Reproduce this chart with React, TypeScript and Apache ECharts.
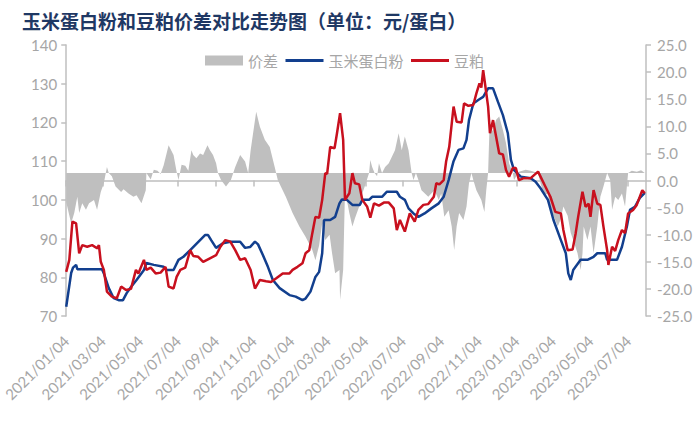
import React, { useEffect, useRef } from "react";
import * as echarts from "echarts";

const titleText = "玉米蛋白粉和豆粕价差对比走势图（单位：元/蛋白）";
const seriesNames = ["价差", "玉米蛋白粉", "豆粕"];

const xMinDate = "2021-01-04";
const xMaxDate = "2023-08-02";
const xTickDates = [
  "2021-01-04", "2021-03-04", "2021-05-04", "2021-07-04", "2021-09-04", "2021-11-04",
  "2022-01-04", "2022-03-04", "2022-05-04", "2022-07-04", "2022-09-04", "2022-11-04",
  "2023-01-04", "2023-03-04", "2023-05-04", "2023-07-04",
];

// 玉米蛋白粉 (left axis)
const cornProtein: [string, number][] = [
  ["2021-01-04", 72.4], ["2021-01-12", 81.1], ["2021-01-15", 82.5], ["2021-01-20", 83.2], ["2021-01-22", 82.1],
  ["2021-03-03", 82.1], ["2021-03-06", 81], ["2021-03-14", 77.2], ["2021-03-22", 74.6], ["2021-03-30", 74.1],
  ["2021-04-06", 74.1], ["2021-04-12", 75.9], ["2021-04-19", 77.5], ["2021-04-28", 79.3], ["2021-05-10", 81.9],
  ["2021-05-14", 83.7], ["2021-05-26", 83.2], ["2021-06-11", 82.7], ["2021-06-16", 81.9], ["2021-06-27", 81.9],
  ["2021-07-05", 84.5], ["2021-07-13", 85.3], ["2021-07-24", 87], ["2021-08-01", 88.3], ["2021-08-09", 89.6],
  ["2021-08-17", 90.9], ["2021-08-22", 90.9], ["2021-08-27", 89.6], ["2021-09-04", 87.6], ["2021-09-15", 88.8],
  ["2021-09-27", 89.2], ["2021-10-13", 89.2], ["2021-10-21", 87.6], ["2021-10-29", 87.8], ["2021-11-06", 89.2],
  ["2021-11-11", 88.5], ["2021-11-19", 85.7], ["2021-11-27", 82.7], ["2021-12-05", 79.3], ["2021-12-16", 77.2],
  ["2022-01-01", 75.4], ["2022-01-11", 75], ["2022-01-22", 74.1], ["2022-01-27", 74.5], ["2022-02-04", 76.3],
  ["2022-02-12", 80.1], ["2022-02-18", 81.4], ["2022-02-23", 86.2], ["2022-02-26", 94.8], ["2022-03-08", 94.8],
  ["2022-03-16", 95.6], ["2022-03-23", 99.1], ["2022-03-27", 100.1], ["2022-04-04", 100], ["2022-04-13", 98.7],
  ["2022-04-25", 98.7], ["2022-04-29", 100], ["2022-05-10", 100], ["2022-05-15", 100.8], ["2022-05-31", 100.8],
  ["2022-06-08", 102.1], ["2022-06-24", 102.1], ["2022-06-29", 100.8], ["2022-07-07", 100], ["2022-07-13", 97.8],
  ["2022-07-21", 96.5], ["2022-07-29", 95.6], ["2022-08-08", 96.5], ["2022-08-19", 97.8], ["2022-08-31", 99.1],
  ["2022-09-08", 100.8], ["2022-09-16", 105.1], ["2022-09-24", 110], ["2022-10-02", 112.9], ["2022-10-10", 113.3],
  ["2022-10-15", 115.5], ["2022-10-19", 120.6], ["2022-10-26", 124.9], ["2022-11-03", 125.8], ["2022-11-11", 126.6],
  ["2022-11-19", 128.8], ["2022-11-27", 128.8], ["2022-12-05", 125.3], ["2022-12-13", 121.9], ["2022-12-21", 117.2],
  ["2022-12-26", 110.3], ["2022-12-31", 107.7], ["2023-01-11", 106], ["2023-01-27", 105.6], ["2023-02-04", 104.7],
  ["2023-02-12", 103], ["2023-02-24", 100], ["2023-03-05", 94.8], ["2023-03-17", 89.6], ["2023-03-25", 86.2],
  ["2023-03-29", 81], ["2023-04-02", 79.3], ["2023-04-06", 81.9], ["2023-04-18", 84.5], ["2023-04-29", 84.5],
  ["2023-05-09", 85.3], ["2023-05-15", 86.2], ["2023-05-28", 86.2], ["2023-05-31", 84.5], ["2023-06-16", 84.5],
  ["2023-06-24", 87.9], ["2023-07-02", 93.1], ["2023-07-07", 97.4], ["2023-07-15", 98.2], ["2023-07-23", 100.5],
  ["2023-07-31", 101.8],
];

// 豆粕 (left axis)
const soyMeal: [string, number][] = [
  ["2021-01-04", 81.4], ["2021-01-09", 84.5], ["2021-01-14", 94.4], ["2021-01-20", 93.9], ["2021-01-25", 86.2],
  ["2021-01-30", 88.3], ["2021-02-07", 87.9], ["2021-02-15", 88.3], ["2021-02-23", 87.5], ["2021-02-26", 88.3],
  ["2021-03-01", 84], ["2021-03-06", 81.9], ["2021-03-11", 76.3], ["2021-03-19", 75], ["2021-03-27", 74.6],
  ["2021-04-03", 77.6], ["2021-04-11", 76.7], ["2021-04-19", 77], ["2021-04-27", 81.9], ["2021-05-01", 81],
  ["2021-05-10", 84.5], ["2021-05-14", 81.9], ["2021-05-21", 82.5], ["2021-05-29", 81], ["2021-06-06", 81.2],
  ["2021-06-14", 82.7], ["2021-06-19", 77.6], ["2021-06-27", 77.1], ["2021-07-02", 80.1], ["2021-07-08", 81.9],
  ["2021-07-16", 82.5], ["2021-07-24", 87], ["2021-07-29", 85.5], ["2021-08-06", 85.3], ["2021-08-14", 84],
  ["2021-08-25", 84.9], ["2021-09-04", 85.7], ["2021-09-11", 87.9], ["2021-09-19", 89.6], ["2021-09-27", 89.2],
  ["2021-10-05", 87], ["2021-10-13", 84.5], ["2021-10-21", 84.9], ["2021-10-30", 81.9], ["2021-11-06", 77.1],
  ["2021-11-14", 79.3], ["2021-11-24", 79], ["2021-12-02", 78.8], ["2021-12-10", 79.7], ["2021-12-21", 81],
  ["2022-01-01", 81], ["2022-01-06", 81.9], ["2022-01-14", 82.7], ["2022-01-22", 83.6], ["2022-01-27", 86.2],
  ["2022-02-02", 87], ["2022-02-07", 91.4], ["2022-02-12", 95.6], ["2022-02-18", 95.4], ["2022-02-23", 100],
  ["2022-02-28", 106.9], ["2022-03-03", 106.7], ["2022-03-08", 113.7], ["2022-03-15", 113.3], ["2022-03-19", 117.2],
  ["2022-03-24", 122.4], ["2022-03-29", 115.5], ["2022-04-01", 100], ["2022-04-08", 101.7], ["2022-04-13", 106.9],
  ["2022-04-17", 104.3], ["2022-04-24", 104], ["2022-04-29", 100], ["2022-05-07", 98.2], ["2022-05-12", 95.4],
  ["2022-05-18", 99.1], ["2022-05-26", 98.5], ["2022-06-03", 99.3], ["2022-06-11", 99.3], ["2022-06-19", 97.8],
  ["2022-06-24", 92.2], ["2022-06-29", 94.8], ["2022-07-07", 91.8], ["2022-07-15", 96.5], ["2022-07-23", 94.4],
  ["2022-07-29", 97.4], ["2022-08-06", 98.7], ["2022-08-14", 98.9], ["2022-08-23", 100.8], ["2022-08-27", 104.3],
  ["2022-09-01", 104], ["2022-09-08", 105.1], ["2022-09-12", 110], ["2022-09-17", 113.7], ["2022-09-24", 124.1],
  ["2022-09-29", 120.2], ["2022-10-07", 120], ["2022-10-11", 124.9], ["2022-10-18", 124.3], ["2022-10-26", 124.5],
  ["2022-10-31", 127.5], ["2022-11-05", 130.1], ["2022-11-08", 129], ["2022-11-11", 133.5], ["2022-11-14", 130],
  ["2022-11-19", 124.1], ["2022-11-22", 117.2], ["2022-11-27", 120.6], ["2022-12-02", 116.3], ["2022-12-07", 112],
  ["2022-12-13", 111.7], ["2022-12-18", 107.7], ["2022-12-23", 106], ["2022-12-29", 108.2], ["2023-01-03", 108.2],
  ["2023-01-08", 105.1], ["2023-01-16", 105.6], ["2023-01-27", 105.6], ["2023-02-08", 107.3], ["2023-02-12", 106],
  ["2023-02-20", 103.4], ["2023-02-28", 100.8], ["2023-03-08", 96.9], ["2023-03-17", 96.5], ["2023-03-21", 92.2],
  ["2023-03-28", 87], ["2023-04-05", 87.2], ["2023-04-10", 91.4], ["2023-04-14", 95.6], ["2023-04-21", 102.1],
  ["2023-04-26", 98.2], ["2023-05-01", 99], ["2023-05-04", 95.6], ["2023-05-09", 102.5], ["2023-05-15", 99],
  ["2023-05-20", 98.7], ["2023-05-25", 93.1], ["2023-05-31", 87], ["2023-06-02", 83.2], ["2023-06-08", 87.9],
  ["2023-06-13", 86.8], ["2023-06-18", 89.6], ["2023-06-24", 92.2], ["2023-06-29", 91.4], ["2023-07-04", 96.5],
  ["2023-07-12", 97.4], ["2023-07-18", 98.7], ["2023-07-27", 102.5], ["2023-07-31", 101.7],
];

// 价差 (right axis)
const spread: [string, number][] = [
  ["2021-01-04", -4], ["2021-01-12", -7.9], ["2021-01-17", -6], ["2021-01-22", -3], ["2021-01-25", -6],
  ["2021-01-30", -4.2], ["2021-02-05", -5.4], ["2021-02-10", -4.2], ["2021-02-18", -3.6], ["2021-02-23", -5.4],
  ["2021-03-01", -2.1], ["2021-03-06", -0.5], ["2021-03-11", 2.5], ["2021-03-14", 1.4], ["2021-03-19", 0.8],
  ["2021-03-25", -1.1], ["2021-04-03", -2.1], ["2021-04-07", -1.6], ["2021-04-15", -2.4], ["2021-04-23", -3],
  ["2021-04-28", -2.7], ["2021-05-06", -4.2], ["2021-05-13", -1.8], ["2021-05-14", 1.4], ["2021-05-21", 0.2],
  ["2021-05-26", 2], ["2021-06-01", 1.8], ["2021-06-06", 1.2], ["2021-06-11", 2.8], ["2021-06-19", 6.5],
  ["2021-06-27", 4.7], ["2021-07-02", 1.6], ["2021-07-05", 0.1], ["2021-07-10", 2.9], ["2021-07-16", 2.7],
  ["2021-07-21", 1.8], ["2021-07-26", 5.6], ["2021-07-29", 4.7], ["2021-08-03", 4.1], ["2021-08-09", 5],
  ["2021-08-14", 4.7], ["2021-08-21", 6.5], ["2021-08-25", 5.6], ["2021-08-30", 4.7], ["2021-09-04", 3.2],
  ["2021-09-07", 1.4], ["2021-09-12", 0.1], ["2021-09-20", -1.1], ["2021-09-28", 0.1], ["2021-10-05", 2.5],
  ["2021-10-13", 4.7], ["2021-10-21", 3.5], ["2021-10-26", 1.4], ["2021-10-30", 5.6], ["2021-11-08", 12.7],
  ["2021-11-14", 9.9], ["2021-11-22", 7.5], ["2021-11-30", 6.2], ["2021-12-08", 2.5], ["2021-12-13", 0.1],
  ["2021-12-18", -1.1], ["2021-12-26", -3], ["2022-01-06", -6], ["2022-01-17", -8.5], ["2022-01-27", -10.4],
  ["2022-02-07", -12.8], ["2022-02-12", -14.7], ["2022-02-18", -12], ["2022-02-23", -7.9], ["2022-02-28", -11],
  ["2022-03-07", -10], ["2022-03-11", -13.4], ["2022-03-16", -17.1], ["2022-03-23", -16.5], ["2022-03-24", -22],
  ["2022-03-29", -16.5], ["2022-04-01", -1.8], ["2022-04-08", -6], ["2022-04-13", -8.5], ["2022-04-17", -7],
  ["2022-04-24", -4.8], ["2022-04-29", -2.4], ["2022-05-03", -1.1], ["2022-05-10", 1.4], ["2022-05-12", 3.8],
  ["2022-05-15", 2.5], ["2022-05-19", 1.4], ["2022-05-23", 0.8], ["2022-05-26", 3.2], ["2022-05-31", 1.4],
  ["2022-06-05", 2.5], ["2022-06-11", 3.2], ["2022-06-16", 4.4], ["2022-06-21", 5.6], ["2022-06-27", 8.7],
  ["2022-07-02", 5.6], ["2022-07-07", 8.1], ["2022-07-13", 5.6], ["2022-07-18", 1.4], ["2022-07-21", 0.1],
  ["2022-07-25", 1.4], ["2022-07-29", 0.1], ["2022-08-03", -1.8], ["2022-08-14", -3], ["2022-08-24", -1.8],
  ["2022-08-31", -3.6], ["2022-09-04", -2.4], ["2022-09-09", -6.7], ["2022-09-16", -5.5], ["2022-09-21", -8.5],
  ["2022-09-25", -12.8], ["2022-09-29", -8.5], ["2022-10-03", -6], ["2022-10-10", -7.3], ["2022-10-15", -4.8],
  ["2022-10-19", -0.5], ["2022-10-23", 1.4], ["2022-10-26", 0.1], ["2022-10-31", -1.8], ["2022-11-08", -3.6],
  ["2022-11-13", -5.8], ["2022-11-16", -1.8], ["2022-11-19", 1.4], ["2022-11-21", 8.7], ["2022-11-27", 9.3],
  ["2022-12-02", 11.2], ["2022-12-07", 11.8], ["2022-12-13", 9.3], ["2022-12-18", 6.9], ["2022-12-23", 3.2],
  ["2022-12-29", 1.4], ["2022-12-31", 0.1], ["2023-01-08", 1.6], ["2023-01-19", 2], ["2023-01-27", 1.8],
  ["2023-02-08", 1.4], ["2023-02-12", -0.5], ["2023-02-17", -2.4], ["2023-02-24", -2.6], ["2023-02-28", -6],
  ["2023-03-05", -6.5], ["2023-03-12", -8.5], ["2023-03-17", -7], ["2023-03-21", -4.8], ["2023-03-28", -6.5],
  ["2023-04-02", -9.7], ["2023-04-06", -11], ["2023-04-13", -13.4], ["2023-04-18", -16.5], ["2023-04-21", -13.5],
  ["2023-04-23", -8.5], ["2023-04-29", -11], ["2023-05-04", -8.5], ["2023-05-09", -13.4], ["2023-05-15", -8.5],
  ["2023-05-20", -3], ["2023-05-25", -1.1], ["2023-05-31", 1.4], ["2023-06-05", 0.1], ["2023-06-08", -5.4],
  ["2023-06-13", -3], ["2023-06-18", -3.6], ["2023-06-24", -2.4], ["2023-06-29", -4.8], ["2023-07-04", 1.4],
  ["2023-07-10", 1.8], ["2023-07-18", 1.6], ["2023-07-25", 1.9], ["2023-07-31", 1.4],
];
const spreadBaseline = 1.4;

const ts = (s: string) => {
  const [y, m, d] = s.split("-").map(Number);
  return Date.UTC(y, m - 1, d);
};
const pad = (n: number) => (n < 10 ? "0" + n : "" + n);
const fmtDate = (v: number) => {
  const d = new Date(v);
  return `${d.getUTCFullYear()}/${pad(d.getUTCMonth() + 1)}/${pad(d.getUTCDate())}`;
};
const toPoints = (arr: [string, number][]) => arr.map(([d, v]) => [ts(d), v]);

const GRAY_TEXT = "#A6A6A6";
const AXIS_LINE = "#BFBFBF";
const FONT = "Lato, 'Noto Sans CJK SC', sans-serif";
const CJK = "'Noto Sans CJK SC', sans-serif";
const BLUE = "#123F8E";
const RED = "#C8101E";

export default function App() {
  const ref = useRef<HTMLDivElement>(null);
  useEffect(() => {
    if (!ref.current) return;
    const chart = echarts.init(ref.current, undefined, { renderer: "svg" });
    const tickValues = xTickDates.map(ts);
    chart.setOption({
      animation: false,
      backgroundColor: "#ffffff",
      title: {
        text: titleText,
        left: 17,
        top: 6,
        textStyle: { fontSize: 19, fontWeight: "bold", color: "#1F3864", fontFamily: CJK },
      },
      legend: {
        left: 205,
        top: 53,
        padding: 0,
        itemWidth: 38,
        itemHeight: 10,
        itemGap: 6,
        textStyle: { fontSize: 15, color: GRAY_TEXT, fontFamily: CJK },
        data: [
          { name: seriesNames[0], icon: "rect", itemStyle: { color: "#BFBFBF" } },
          { name: seriesNames[1], itemStyle: { opacity: 0 }, lineStyle: { width: 3, color: BLUE } },
          { name: seriesNames[2], itemStyle: { opacity: 0 }, lineStyle: { width: 3, color: RED } },
        ],
      },
      grid: { left: 62, right: 54, top: 45, bottom: 110 },
      xAxis: {
        type: "value",
        min: ts(xMinDate),
        max: ts(xMaxDate),
        splitLine: { show: false },
        axisLine: { show: true, lineStyle: { color: AXIS_LINE, width: 1.5 } },
        axisTick: { show: true, customValues: tickValues, length: 6, lineStyle: { color: AXIS_LINE, width: 1.5 } },
        axisLabel: {
          customValues: tickValues,
          rotate: 45,
          margin: 22,
          formatter: (v: number) => fmtDate(v),
          color: GRAY_TEXT,
          fontSize: 15,
          fontFamily: FONT,
        },
      },
      yAxis: [
        {
          type: "value",
          position: "left",
          min: 70,
          max: 140,
          interval: 10,
          splitLine: { show: false },
          axisLine: { show: true, lineStyle: { color: AXIS_LINE, width: 1.5 } },
          axisTick: { show: true, length: 5, lineStyle: { color: AXIS_LINE, width: 1.5 } },
          axisLabel: { color: GRAY_TEXT, fontSize: 15, margin: 9, fontFamily: FONT },
        },
        {
          type: "value",
          position: "right",
          min: -25,
          max: 25,
          interval: 5,
          splitLine: { show: false },
          axisLine: { show: true, lineStyle: { color: AXIS_LINE, width: 1.5 } },
          axisTick: { show: true, length: 5, lineStyle: { color: AXIS_LINE, width: 1.5 } },
          axisLabel: {
            color: GRAY_TEXT,
            fontSize: 15,
            margin: 11,
            fontFamily: FONT,
            formatter: (v: number) => v.toFixed(1),
          },
        },
      ],
      series: [
        {
          name: seriesNames[0],
          type: "line",
          yAxisIndex: 1,
          data: toPoints(spread),
          symbol: "none",
          itemStyle: { color: "#BFBFBF" },
          lineStyle: { width: 0, color: "#BFBFBF" },
          areaStyle: { color: "#BFBFBF", opacity: 1, origin: spreadBaseline },
          z: 1,
        },
        {
          name: seriesNames[1],
          type: "line",
          yAxisIndex: 0,
          data: toPoints(cornProtein),
          symbol: "none",
          itemStyle: { color: BLUE },
          lineStyle: { width: 2.5, color: BLUE },
          z: 3,
        },
        {
          name: seriesNames[2],
          type: "line",
          yAxisIndex: 0,
          data: toPoints(soyMeal),
          symbol: "none",
          itemStyle: { color: RED },
          lineStyle: { width: 2.5, color: RED },
          z: 4,
        },
      ],
    });
    return () => chart.dispose();
  }, []);
  return (
    <div
      ref={ref}
      style={{ position: "fixed", left: 0, top: 0, width: 700, height: 426, background: "#fff" }}
    />
  );
}
